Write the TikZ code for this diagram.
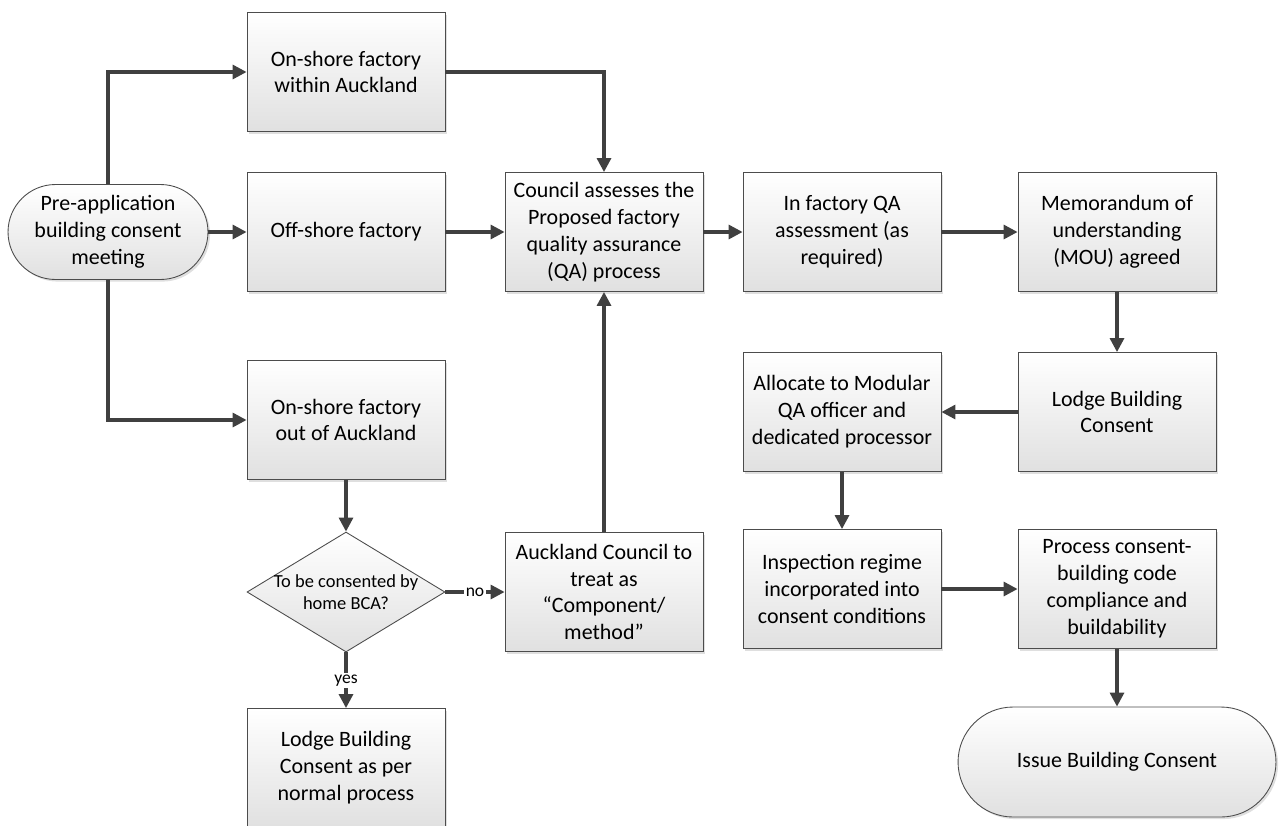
\documentclass[tikz,border=0pt]{standalone}
\usepackage{fontspec}
\setmainfont{Carlito}
\usetikzlibrary{arrows.meta,positioning,shapes.geometric,shadows}

\colorlet{linecol}{black!75}

\begin{document}
\begin{tikzpicture}[
  x=0.02cm, y=-0.02cm,
  >={Triangle[length=2.8mm,width=2.8mm]},
  font=\fontsize{12.5}{15.3}\selectfont,
  flowline/.style={draw=linecol,line width=1.8pt},
  procbox/.style={draw=black!70,line width=0.5pt,top color=white,bottom color=black!12,
    align=center,minimum width=3.96cm,minimum height=2.38cm,inner sep=2pt,
    drop shadow={shadow xshift=1.2pt,shadow yshift=-1.2pt,opacity=0.25}},
  termbox/.style={procbox,rounded corners=#1},
  decbox/.style={diamond,draw=black!70,line width=0.5pt,top color=white,bottom color=black!12,
    align=center,shape aspect=1.65,inner xsep=-0.18cm,inner ysep=0pt,
    minimum width=3.96cm,minimum height=2.4cm,
    font=\fontsize{10.5}{12.5}\selectfont},
  lbl/.style={fill=white,inner sep=1pt,font=\fontsize{10}{12}\selectfont}
]
\useasboundingbox (0,0) rectangle (1280,825);

\node[termbox=0.95cm,minimum width=4cm,minimum height=1.9cm] (pre) at (108,232)
  {Pre-application\\building consent\\meeting};
\node[procbox] (onshoreIn) at (346,72) {On-shore factory\\within Auckland};
\node[procbox] (offshore) at (346,232) {Off-shore factory};
\node[procbox] (onshoreOut) at (346,420) {On-shore factory\\out of Auckland};
\node[decbox] (homebca) at (346,592) {To be consented by\\home BCA?};
\node[procbox] (lodgenormal) at (346,768) {Lodge Building\\Consent as per\\normal process};

\node[procbox] (council) at (604,232)
  {Council assesses the\\Proposed factory\\quality assurance\\(QA) process};
\node[procbox] (component) at (604,592)
  {Auckland Council to\\treat as\\``Component/\\method''};

\node[procbox] (infactory) at (842,232) {In factory QA\\assessment (as\\required)};
\node[procbox] (allocate) at (842,412)
  {Allocate to Modular\\QA officer and\\dedicated processor};
\node[procbox] (inspection) at (842,589)
  {Inspection regime\\incorporated into\\consent conditions};

\node[procbox] (mou) at (1117,232) {Memorandum of\\understanding\\(MOU) agreed};
\node[procbox] (lodgebc) at (1117,412) {Lodge Building\\Consent};
\node[procbox] (process) at (1117,589)
  {Process consent-\\building code\\compliance and\\buildability};
\node[termbox=1.1cm,minimum width=6.36cm,minimum height=2.2cm] (issue) at (1117,762)
  {Issue Building Consent};

\draw[flowline,->] (pre.north) |- (onshoreIn.west);
\draw[flowline,->] (pre.east) -- (offshore.west);
\draw[flowline,->] (pre.south) |- (onshoreOut.west);
\draw[flowline,->] (onshoreIn.east) -| (council.north);
\draw[flowline,->] (offshore) -- (council);
\draw[flowline,->] (onshoreOut) -- (homebca);
\draw[flowline,->] (homebca.east) -- node[lbl] {no} (component.west);
\draw[flowline,->] (homebca.south) -- node[lbl] {yes} (lodgenormal.north);
\draw[flowline,->] (component) -- (council);
\draw[flowline,->] (council) -- (infactory);
\draw[flowline,->] (infactory) -- (mou);
\draw[flowline,->] (mou) -- (lodgebc);
\draw[flowline,->] (lodgebc) -- (allocate);
\draw[flowline,->] (allocate) -- (inspection);
\draw[flowline,->] (inspection) -- (process);
\draw[flowline,->] (process) -- (issue);

\end{tikzpicture}
\end{document}
